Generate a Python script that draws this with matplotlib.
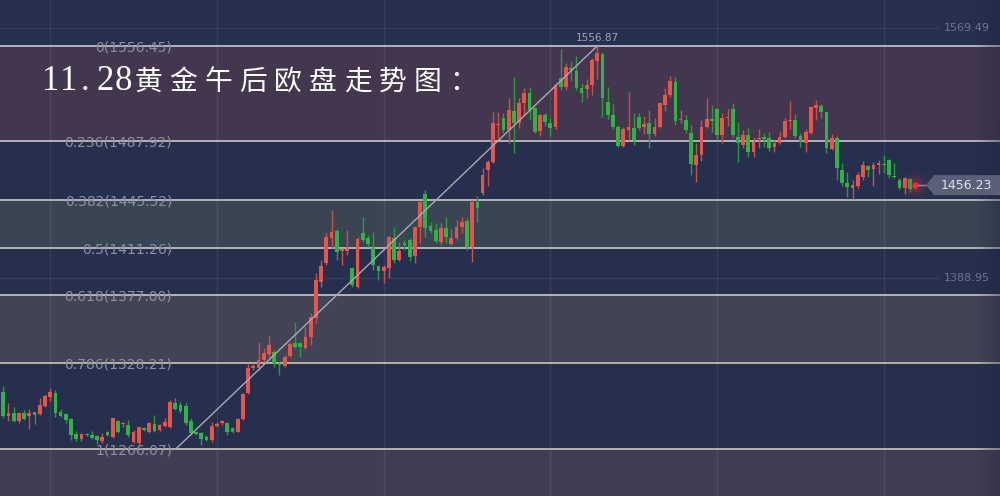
import matplotlib
matplotlib.use("Agg")
import matplotlib.pyplot as plt
import matplotlib.transforms as mtransforms
from matplotlib.patches import Polygon
import numpy as np

# ---- data (15 min gold candles) ----
opens = [1307.2, 1289.9, 1292.0, 1286.3, 1292.0, 1289.9, 1292.7, 1291.3, 1297.1, 1303.6,
         1306.5, 1292.7, 1291.3, 1287.7, 1276.9, 1273.3, 1276.9, 1276.2, 1275.5, 1271.9,
         1278.4, 1274.8, 1286.3, 1284.1, 1283.4, 1271.2, 1270.4, 1281.2, 1278.4, 1284.1,
         1279.8, 1282.7, 1282.0, 1299.2, 1297.8, 1297.1, 1286.3, 1278.4, 1277.6, 1274.8,
         1272.6, 1282.7, 1284.9, 1284.9, 1281.2, 1278.4, 1287.7, 1306.5, 1324.5, 1324.5,
         1330.2, 1334.5, 1336.0, 1328.1, 1325.9, 1333.1, 1342.5, 1342.5, 1338.9, 1346.8,
         1360.5, 1386.4, 1400.1, 1418.1, 1423.2, 1408.8, 1408.8, 1396.5, 1382.8, 1421.7,
         1418.1, 1410.9, 1398.0, 1394.4, 1396.5, 1418.1, 1402.3, 1414.5, 1416.7, 1405.2,
         1426.0, 1449.8, 1426.8, 1423.9, 1415.2, 1425.3, 1413.8, 1418.1, 1426.0, 1430.4,
         1411.6, 1444.0, 1450.5, 1467.1, 1472.9, 1499.5, 1504.6, 1495.9, 1509.6, 1501.0,
         1515.4, 1522.6, 1511.8, 1495.2, 1506.7, 1501.0, 1498.1, 1533.4, 1526.9, 1540.6,
         1538.4, 1526.2, 1525.5, 1528.4, 1545.6, 1550.7, 1516.1, 1506.7, 1498.1, 1484.4,
         1495.9, 1497.4, 1505.3, 1498.1, 1501.0, 1493.1, 1498.1, 1514.0, 1521.2, 1530.5,
         1503.1, 1503.1, 1493.8, 1470.7, 1477.9, 1498.1, 1503.9, 1511.1, 1492.3, 1504.6,
         1511.1, 1490.9, 1485.1, 1492.3, 1480.1, 1489.5, 1490.9, 1490.2, 1483.7, 1486.6,
         1490.9, 1502.4, 1503.1, 1491.6, 1486.6, 1493.8, 1511.8, 1513.2, 1508.9, 1482.3,
         1490.2, 1467.1, 1457.8, 1454.3, 1455.6, 1462.1, 1470.0, 1467.8, 1470.7, 1471.4,
         1474.3, 1462.8, 1459.9, 1454.1, 1460.7, 1454.1]
highs = [1311.5, 1299.2, 1296.4, 1292.7, 1294.2, 1294.9, 1292.7, 1302.8, 1305.7, 1310.0,
         1308.6, 1294.9, 1292.0, 1288.4, 1279.1, 1277.6, 1277.6, 1279.1, 1276.2, 1277.6,
         1279.1, 1288.4, 1287.0, 1285.6, 1287.0, 1279.8, 1282.0, 1282.0, 1285.6, 1290.6,
         1284.1, 1288.4, 1301.4, 1302.8, 1300.0, 1299.2, 1288.4, 1279.1, 1278.4, 1276.2,
         1285.6, 1285.6, 1287.0, 1285.6, 1282.0, 1288.4, 1306.5, 1328.1, 1328.1, 1343.2,
         1338.9, 1347.5, 1337.4, 1328.8, 1333.8, 1343.2, 1357.6, 1343.2, 1354.0, 1364.1,
         1392.9, 1402.3, 1421.7, 1438.3, 1424.6, 1410.9, 1423.9, 1397.2, 1418.8, 1432.9,
         1420.3, 1422.4, 1398.7, 1398.7, 1419.6, 1426.0, 1415.2, 1416.7, 1418.1, 1426.8,
         1444.8, 1452.7, 1429.6, 1428.9, 1428.9, 1433.2, 1424.6, 1431.1, 1433.2, 1432.5,
         1445.5, 1448.4, 1468.6, 1474.3, 1508.9, 1508.9, 1508.2, 1519.0, 1534.1, 1519.0,
         1526.2, 1526.9, 1512.5, 1507.5, 1508.2, 1504.6, 1529.8, 1554.3, 1544.2, 1545.6,
         1549.3, 1529.8, 1532.7, 1547.8, 1556.9, 1552.1, 1526.9, 1514.7, 1499.5, 1498.1,
         1523.3, 1508.2, 1508.2, 1506.0, 1510.3, 1504.6, 1516.1, 1526.2, 1534.8, 1534.1,
         1510.3, 1506.7, 1499.5, 1486.6, 1503.1, 1519.0, 1514.0, 1511.8, 1508.2, 1511.1,
         1515.4, 1501.7, 1495.9, 1497.4, 1490.9, 1496.7, 1493.8, 1494.5, 1488.7, 1495.2,
         1504.6, 1516.8, 1507.5, 1493.8, 1496.7, 1513.2, 1517.5, 1514.7, 1508.9, 1493.1,
         1491.6, 1472.2, 1465.7, 1459.9, 1465.7, 1473.6, 1470.7, 1472.9, 1474.3, 1477.9,
         1475.0, 1472.2, 1461.4, 1462.1, 1461.4, 1457.8]
lows = [1288.4, 1286.3, 1285.6, 1284.9, 1287.0, 1280.5, 1284.1, 1290.6, 1296.4, 1300.7,
        1289.2, 1289.2, 1284.9, 1272.6, 1271.9, 1271.9, 1275.5, 1273.3, 1269.7, 1270.4,
        1275.5, 1274.0, 1277.6, 1282.0, 1274.8, 1270.4, 1267.5, 1279.1, 1277.6, 1278.4,
        1279.1, 1282.0, 1281.2, 1294.2, 1292.0, 1283.4, 1276.2, 1276.2, 1269.0, 1271.9,
        1271.2, 1282.0, 1283.4, 1276.2, 1277.6, 1278.4, 1287.0, 1305.7, 1323.0, 1323.0,
        1328.8, 1332.4, 1325.2, 1319.4, 1325.2, 1332.4, 1338.9, 1332.4, 1338.2, 1341.0,
        1356.9, 1382.8, 1398.7, 1410.9, 1402.3, 1398.7, 1405.9, 1382.8, 1382.0, 1415.2,
        1411.6, 1395.1, 1387.9, 1385.7, 1389.3, 1400.1, 1401.6, 1409.5, 1401.6, 1400.1,
        1414.5, 1418.9, 1421.7, 1414.5, 1413.1, 1414.5, 1413.1, 1416.7, 1421.7, 1409.5,
        1400.9, 1429.6, 1449.1, 1455.6, 1472.2, 1490.2, 1493.8, 1486.6, 1479.4, 1497.4,
        1506.7, 1503.1, 1493.8, 1491.6, 1498.8, 1491.6, 1496.7, 1524.8, 1524.8, 1531.2,
        1524.8, 1516.1, 1519.0, 1521.2, 1532.7, 1505.3, 1503.7, 1496.7, 1483.7, 1483.7,
        1488.7, 1485.1, 1495.9, 1493.1, 1483.0, 1491.6, 1497.4, 1509.6, 1519.7, 1499.5,
        1501.0, 1493.8, 1463.5, 1458.5, 1473.6, 1497.4, 1494.5, 1488.7, 1486.6, 1498.8,
        1490.9, 1472.9, 1483.0, 1476.5, 1476.5, 1483.0, 1483.7, 1480.8, 1480.1, 1485.8,
        1490.2, 1496.7, 1490.2, 1483.7, 1480.1, 1493.1, 1503.1, 1504.6, 1479.4, 1481.5,
        1459.9, 1455.6, 1447.7, 1446.2, 1454.1, 1459.9, 1462.1, 1455.6, 1464.3, 1465.0,
        1461.4, 1461.4, 1453.4, 1449.8, 1451.3, 1453.4]
closes = [1289.9, 1292.0, 1286.3, 1292.0, 1287.7, 1292.0, 1290.6, 1297.8, 1304.3, 1307.2,
          1292.0, 1289.9, 1287.0, 1276.2, 1273.3, 1276.9, 1276.2, 1274.0, 1272.6, 1274.8,
          1276.2, 1288.4, 1278.4, 1284.9, 1276.2, 1278.4, 1282.0, 1279.8, 1284.9, 1279.1,
          1283.4, 1285.6, 1300.0, 1294.9, 1293.5, 1284.9, 1277.6, 1276.9, 1273.3, 1272.6,
          1282.7, 1284.1, 1286.3, 1278.4, 1278.4, 1287.7, 1305.7, 1324.5, 1325.9, 1330.2,
          1335.3, 1341.0, 1328.1, 1326.6, 1332.4, 1341.8, 1339.6, 1339.6, 1346.8, 1361.2,
          1387.9, 1398.0, 1418.9, 1422.4, 1408.0, 1410.2, 1410.2, 1384.3, 1417.4, 1416.7,
          1413.8, 1398.7, 1394.4, 1397.2, 1418.9, 1402.3, 1408.8, 1413.1, 1404.4, 1426.0,
          1444.0, 1425.3, 1423.2, 1416.0, 1425.3, 1418.9, 1418.1, 1426.0, 1429.6, 1411.6,
          1444.0, 1439.7, 1463.5, 1472.9, 1501.0, 1500.3, 1495.9, 1510.3, 1501.0, 1515.4,
          1522.6, 1510.3, 1494.5, 1506.7, 1501.7, 1497.4, 1528.4, 1526.9, 1541.3, 1539.2,
          1526.2, 1522.6, 1528.4, 1546.4, 1551.4, 1519.0, 1506.7, 1498.1, 1484.4, 1496.7,
          1498.1, 1488.7, 1497.4, 1500.3, 1493.1, 1498.1, 1515.4, 1521.2, 1531.2, 1502.4,
          1503.9, 1495.9, 1471.4, 1477.9, 1498.1, 1503.9, 1502.4, 1492.3, 1504.6, 1505.3,
          1492.3, 1486.6, 1492.3, 1480.1, 1487.3, 1490.2, 1489.5, 1483.0, 1486.6, 1490.9,
          1502.4, 1503.1, 1491.6, 1487.3, 1494.5, 1512.5, 1514.0, 1508.9, 1483.0, 1490.2,
          1468.6, 1457.8, 1454.9, 1456.3, 1463.5, 1470.7, 1467.1, 1470.7, 1472.2, 1470.7,
          1463.5, 1462.1, 1454.1, 1461.4, 1453.4, 1456.23]

fib_ratios = ["0", "0.236", "0.382", "0.5", "0.618", "0.786", "1"]
fib_prices = [1556.45, 1487.92, 1445.52, 1411.26, 1377.00, 1328.21, 1266.07]
price_grid = [1569.49, 1388.95]
time_grid = [9, 41, 73, 105, 137, 169]
swing_low = (33.1, 1266.07)
swing_high = (114.1, 1556.87)
last_price = 1456.23
title = "11.28黄金午后欧盘走势图："

# ---- colours ----
bg = "#272f4f"
up_col = "#e8544a"
dn_col = "#2fb344"
band_cols = {0: "#42374f", 2: "#3a4554", 4: "#424456", 6: "#423d54"}

fig = plt.figure(figsize=(10, 4.96), dpi=100)
ax = fig.add_axes([0, 0, 1, 1])
ax.set_facecolor(bg)
fig.patch.set_facecolor(bg)
ax.axis("off")
bt = mtransforms.blended_transform_factory(ax.transAxes, ax.transData)

# fib bands and lines
for i, col in band_cols.items():
    top = fib_prices[i]
    bot = fib_prices[i + 1] if i + 1 < len(fib_prices) else 1200
    ax.axhspan(bot, top, color=col, zorder=0, lw=0)
for r, p in zip(fib_ratios, fib_prices):
    lc = "#c2bda2" if r == "0.786" else "#bdbdc0"
    ax.axhline(p, color=lc, lw=1.3, zorder=2)
    ax.text(0.172, p - 1.2, f"{r}({p:.2f})", transform=bt,
            ha="right", va="center", fontsize=10, color="#8d919e", zorder=5)

# grid
for g in time_grid:
    ax.axvline(g, color="white", alpha=0.07, lw=1, zorder=1)
for g in price_grid:
    ax.axhline(g, xmax=0.94, color="white", alpha=0.06, lw=1, zorder=1)
    ax.text(0.99, g, f"{g:.2f}", transform=bt,
            ha="right", va="center", fontsize=8, color="#6e7592", zorder=5)

# candles
o = np.array(opens)
h = np.array(highs)
l = np.array(lows)
c = np.array(closes)
x = np.arange(len(o))
up = c >= o
cols = np.where(up, up_col, dn_col)
wick_cols = np.where(up, "#c9504a", "#2b9c3d")
ax.vlines(x, l, h, colors=wick_cols, lw=1, zorder=3)
body = np.maximum(np.abs(c - o), 0.8)
ax.bar(x, body, bottom=np.minimum(o, c), width=0.72, color=cols, lw=0, zorder=3)

# fib trend line
ax.plot([swing_low[0], swing_high[0]], [swing_low[1], swing_high[1]], color="#a9aab2", lw=1, zorder=4)
ax.text(swing_high[0], swing_high[1] + 5, f"{swing_high[1]:.2f}", ha="center", va="center",
        fontsize=7.5, color="#a0a4b0", zorder=5)

# last price marker
lx = x[-1]
for s, a in [(420, 0.06), (220, 0.1), (100, 0.15)]:
    ax.scatter([lx], [last_price], s=s, color="#e03040", alpha=a, lw=0, zorder=4)
ax.scatter([lx], [last_price], s=18, color="#ff2a2a", lw=0, zorder=5)
ax.plot([lx + 0.5, 177.3], [last_price, last_price], color="#8a8ea0", lw=1, zorder=4)
hh = 7.2
tag = Polygon([(0.926, last_price), (0.934, last_price + hh), (1.0, last_price + hh),
               (1.0, last_price - hh), (0.934, last_price - hh)], closed=True,
              transform=bt, facecolor="#596078", edgecolor="none", zorder=5)
ax.add_patch(tag)
ax.text(0.966, last_price, f"{last_price:.2f}", transform=bt, ha="center", va="center",
        fontsize=9, color="#e2e4ea", zorder=6)

# darker strip at right edge
grad = np.zeros((1, 50, 4))
grad[..., 0:3] = np.array([30, 34, 58]) / 255
grad[..., 3] = np.linspace(0, 0.35, 50)
ax.imshow(grad, extent=(0.975, 1.0, 0, 1), transform=ax.transAxes, aspect="auto", zorder=4.5)
ax.set_xlim(-0.63, 191.3)
ax.set_ylim(1232.2, 1589.6)

# title, spaced like the original
ty = 1 - 82 / 496
digit_x = [51, 69, 85, 105, 123]
for px, ch in zip(digit_x, title[:5]):
    fig.text(px / 1000, ty, ch, ha="center", va="center", fontsize=25, color="white",
             family=["Liberation Serif", "DejaVu Serif"])
for i, ch in enumerate(title[5:]):
    fig.text((148.5 + i * 34.9) / 1000, ty, ch, ha="center", va="center", fontsize=20,
             color="white", family=["Noto Sans CJK SC", "DejaVu Sans"])

fig.savefig("out.png", dpi=100, facecolor=bg)
